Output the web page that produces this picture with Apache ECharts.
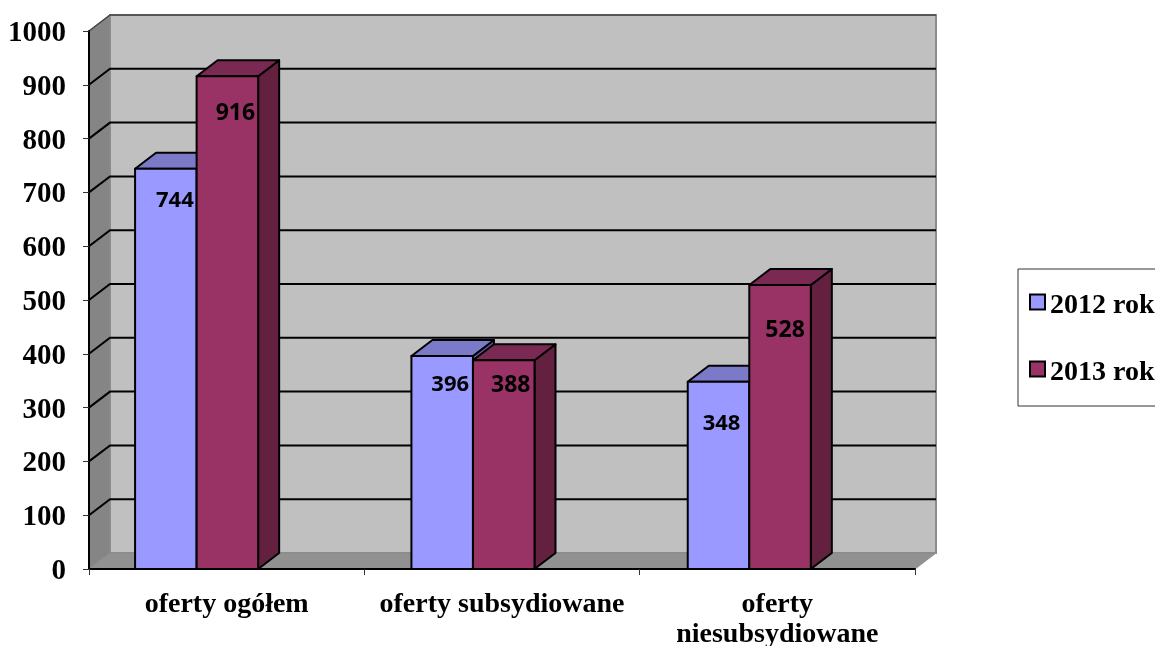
<!DOCTYPE html>
<html>
<head>
<meta charset="utf-8">
<style>html,body{margin:0;padding:0;background:#fff;overflow:hidden}#c{width:1155px;height:646px}</style>
<script src="https://cdn.jsdelivr.net/npm/echarts@6/dist/echarts.min.js"></script>
</head>
<body>
<div id="c"></div>
<script>
const categories = ['oferty ogółem', 'oferty subsydiowane', 'oferty\nniesubsydiowane'];
const values2012 = [744, 396, 348];
const values2013 = [916, 388, 528];
const yMax = 1000;
const yStep = 100;
const yTicks = [0, 100, 200, 300, 400, 500, 600, 700, 800, 900, 1000];

const DX = 21, DY = 16;
const groupNudge = [-1, 0, 1];
const labelShift2012 = [[9, 32], [8, 29], [3, 42]];
const labelShift2013 = [[8, 37], [7, 25], [5, 46]];

function renderWalls(params, api) {
  if (params.dataIndex !== 0) return null;
  const g = params.coordSys;
  const x0 = g.x, x1 = g.x + g.width, yB = g.y + g.height, yT = g.y;
  const kids = [
    { type: 'polygon', shape: { points: [[x0 + DX, yT - DY], [x1 + DX, yT - DY], [x1 + DX, yB - DY], [x0 + DX, yB - DY]] },
      style: { fill: '#c0c0c0', stroke: '#8c8c8c', lineWidth: 2 } },
    { type: 'polygon', shape: { points: [[x0, yT], [x0 + DX, yT - DY], [x0 + DX, yB - DY], [x0, yB]] },
      style: { fill: '#858585', stroke: '#8c8c8c', lineWidth: 1 } },
    { type: 'polygon', shape: { points: [[x0, yB], [x0 + DX, yB - DY], [x1 + DX, yB - DY], [x1, yB]] },
      style: { fill: '#919191', stroke: '#8c8c8c', lineWidth: 1 } }
  ];
  yTicks.forEach(function (t) {
    if (t === 0) return;
    const y = api.coord([0, t])[1];
    kids.push({ type: 'polyline', shape: { points: [[x0, y], [x0 + DX, y - DY], [x1 + DX, y - DY]] },
      style: { fill: null, stroke: t === yMax ? '#444' : '#000', lineWidth: t === yMax ? 1.5 : 2 } });
  });
  return { type: 'group', children: kids };
}

function barRenderer(slot, front, top, side, shifts, labelSize) {
  return function (params, api) {
    const band = api.size([1, 0])[0];
    const idx = api.value(0);
    const cx = api.coord([idx, 0])[0] + groupNudge[params.dataIndex];
    const w = band * 0.2235;
    const left = cx - band * 0.329 + slot * w;
    const right = left + w;
    const y = api.coord([idx, api.value(1)])[1];
    const yb = api.coord([idx, 0])[1];
    const ln = { stroke: '#000', lineWidth: 2, lineJoin: 'round' };
    const s = shifts[params.dataIndex];
    return { type: 'group', children: [
      { type: 'polygon', shape: { points: [[right, y], [right + DX, y - DY], [right + DX, yb - DY], [right, yb]] },
        style: Object.assign({ fill: side }, ln) },
      { type: 'polygon', shape: { points: [[left, y], [left + DX, y - DY], [right + DX, y - DY], [right, y]] },
        style: Object.assign({ fill: top }, ln) },
      { type: 'rect', shape: { x: left, y: y, width: w, height: yb - y },
        style: Object.assign({ fill: front }, ln) },
      { type: 'text', x: (left + right) / 2 + s[0], y: y + s[1],
        style: { text: String(api.value(1)), fill: '#000', font: 'bold ' + labelSize + 'px "Open Sans", sans-serif', align: 'center', verticalAlign: 'middle' } }
    ] };
  };
}

const serifBold = { fontFamily: '"Liberation Serif"', fontWeight: 'bold', color: '#000' };
const chart = echarts.init(document.getElementById('c'), null, { renderer: 'canvas' });
chart.setOption({
  animation: false,
  backgroundColor: '#fff',
  grid: { left: 89, right: 240, top: 31, bottom: 77, outerBoundsMode: 'none' },
  legend: {
    left: 1018, top: 269, orient: 'vertical',
    data: ['2012 rok', '2013 rok'],
    padding: [23, 30, 19, 11],
    itemGap: 39, itemWidth: 15, itemHeight: 15, icon: 'rect',
    backgroundColor: '#fff', borderColor: '#333', borderWidth: 1,
    itemStyle: { borderColor: '#000', borderWidth: 2 },
    formatter: function (n) { return '{a|' + n + '}'; },
    textStyle: Object.assign({ fontSize: 28, rich: { a: Object.assign({ fontSize: 28, padding: [8, 0, 0, 0] }, serifBold) } }, serifBold)
  },
  xAxis: {
    type: 'category', data: categories, z: 5,
    axisLine: { show: true, lineStyle: { color: '#000', width: 2 } },
    axisTick: { show: true, length: 6, lineStyle: { color: '#333', width: 1 } },
    axisLabel: Object.assign({ interval: 0, margin: 21, hideOverlap: false, fontSize: 28, lineHeight: 30 }, serifBold)
  },
  yAxis: {
    type: 'value', min: 0, max: yMax, interval: yStep, z: 5,
    splitLine: { show: false },
    axisLine: { show: true, lineStyle: { color: '#000', width: 2 } },
    axisTick: { show: true, length: 6, lineStyle: { color: '#333', width: 1 } },
    axisLabel: Object.assign({ margin: 23, fontSize: 29, formatter: function (v) { return '{a|' + v + '}'; },
      rich: { a: Object.assign({ fontSize: 29, padding: [5, 0, 0, 0] }, serifBold) } }, serifBold)
  },
  series: [
    { type: 'custom', name: 'walls', silent: true, z: 1, clip: false, renderItem: renderWalls, data: [[0, 0]], encode: { x: 0, y: 1 } },
    { type: 'custom', name: '2012 rok', z: 6, clip: false, itemStyle: { color: '#9999ff' },
      renderItem: barRenderer(0, '#9999ff', '#7a7ac8', '#5f5fa0', labelShift2012, 22),
      data: values2012.map(function (v, i) { return [i, v]; }), encode: { x: 0, y: 1 } },
    { type: 'custom', name: '2013 rok', z: 7, clip: false, itemStyle: { color: '#993366' },
      renderItem: barRenderer(1, '#993366', '#7a2952', '#63203f', labelShift2013, 23),
      data: values2013.map(function (v, i) { return [i, v]; }), encode: { x: 0, y: 1 } }
  ]
});
</script>
</body>
</html>
